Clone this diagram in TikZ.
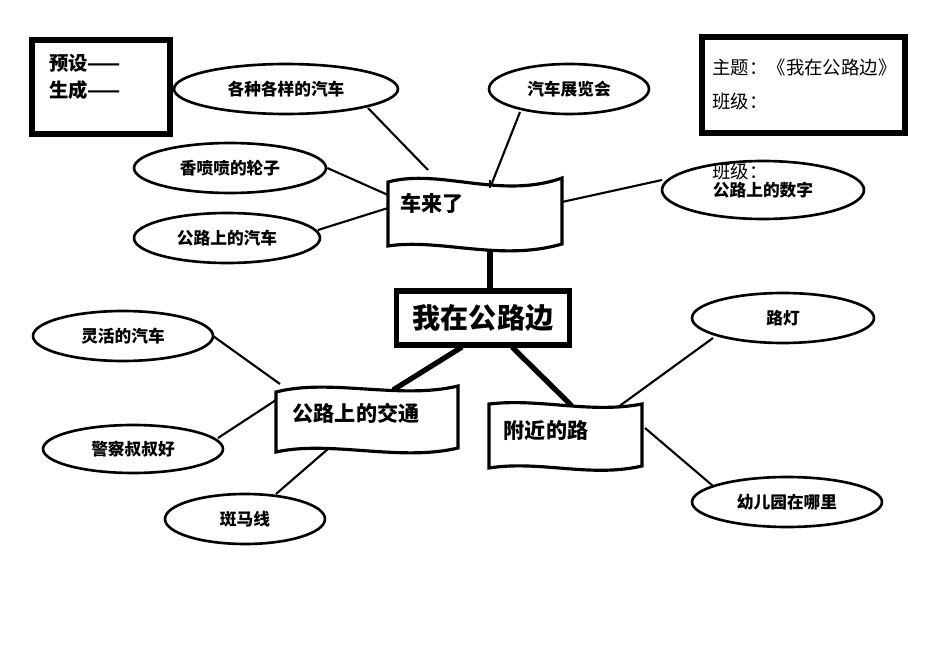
\documentclass[tikz,border=0pt]{standalone}
\usepackage{fontspec}
\setmainfont{Noto Sans CJK SC}
\newfontfamily\cjkb[BoldFont={Noto Sans CJK SC Bold}]{Noto Sans CJK SC}
\usetikzlibrary{shapes.geometric}
\begin{document}
\begin{tikzpicture}[x=0.02cm,y=-0.02cm,
  ell/.style={draw,ellipse,line width=1.5pt,inner sep=0pt,font=\bfseries\fontsize{9.5}{11}\selectfont},
  thin/.style={line width=1.2pt},
  thick/.style={line width=3pt},
  bx/.style={draw,line width=3pt},
  ban/.style={line width=1.8pt,fill=white}]
\useasboundingbox (0,0) rectangle (950,672);
\fill[white] (0,0) rectangle (950,672);
% corner boxes
\draw[line width=3.5pt] (32,40) rectangle (170,134);
\node[anchor=west,font=\bfseries\fontsize{11}{13}\selectfont] (ys) at (43,63) {预设——};
\node[anchor=west,font=\bfseries\fontsize{11}{13}\selectfont] (sc) at (43,90) {生成------};
\draw[line width=3.5pt] (702,37) rectangle (905,133);
\node[anchor=west,font=\fontsize{10.5}{12}\selectfont] (zt) at (706,67) {主题：《我在公路边》};
\node[anchor=west,font=\fontsize{10.5}{12}\selectfont] (bj) at (706,102) {班级：};
% ellipses
\node[ell,minimum width=224\pgflinewidth*0+4.48cm,minimum height=1cm] (e1) at (286,89) {各种各样的汽车};
\node[ell,minimum width=3.2cm,minimum height=1cm] (e2) at (569,89) {汽车展览会};
\node[ell,minimum width=3.84cm,minimum height=1cm] (e3) at (230,168) {香喷喷的轮子};
\node[ell,minimum width=3.72cm,minimum height=1cm] (e4) at (227,238) {公路上的汽车};
\node[ell,minimum width=4.04cm,minimum height=1.16cm] (e5) at (763,190) {公路上的数字};
\node[anchor=west,font=\fontsize{10.5}{12}\selectfont] (bj2) at (706,172) {班级：};
\node[ell,minimum width=3.6cm,minimum height=1cm] (e6) at (123,336) {灵活的汽车};
\node[ell,minimum width=3.6cm,minimum height=0.96cm] (e7) at (133,449) {警察叔叔好};
\node[ell,minimum width=3.2cm,minimum height=1cm] (e8) at (245,519) {斑马线};
\node[ell,minimum width=3.64cm,minimum height=1cm] (e9) at (783,318) {路灯};
\node[ell,minimum width=3.8cm,minimum height=1cm] (e10) at (787,502) {幼儿园在哪里};
% thin connectors
\draw[thin] (368,108) -- (428,170);
\draw[thin] (520,112) -- (490,188);
\draw[thin] (e3.east) -- (388,195);
\draw[thin] (318,230) -- (388,208);
\draw[thin] (562,202) -- (662,180);
\draw[thin] (213,336) -- (280,384);
\draw[thin] (218,438) -- (276,400);
\draw[thin] (276,494) -- (336,442);
\draw[thin] (713,338) -- (603,418);
\draw[thin] (713,486) -- (645,428);
% thick connectors
\draw[thick] (490,291) -- (490,250);
\draw[thick] (462,347) -- (393,390);
\draw[thick] (512,347) -- (572,406);
% banners
\draw[ban] (388,182) .. controls (440,168) and (500,200) .. (562,178) -- (562,244) .. controls (500,262) and (440,238) .. (388,246) -- cycle;
\node[font=\bfseries\fontsize{12}{14}\selectfont] (b1) at (432,203) {车来了};
\draw[thin] (490,188) -- (490,180);
\draw[ban] (276,392) .. controls (330,378) and (400,400) .. (458,386) -- (458,448) .. controls (400,462) and (330,440) .. (276,452) -- cycle;
\node[font=\bfseries\fontsize{12}{14}\selectfont] (b2) at (356,413) {公路上的交通};
\draw[ban] (489,404) .. controls (540,398) and (590,414) .. (642,404) -- (642,466) .. controls (590,478) and (540,460) .. (489,468) -- cycle;
\node[font=\bfseries\fontsize{12}{14}\selectfont] (b3) at (546,431) {附近的路};
% center
\node[draw,line width=3pt,minimum width=3.46cm,minimum height=1.08cm,font=\bfseries\fontsize{16}{18}\selectfont] (c) at (483,318) {我在公路边};
\end{tikzpicture}
\end{document}
